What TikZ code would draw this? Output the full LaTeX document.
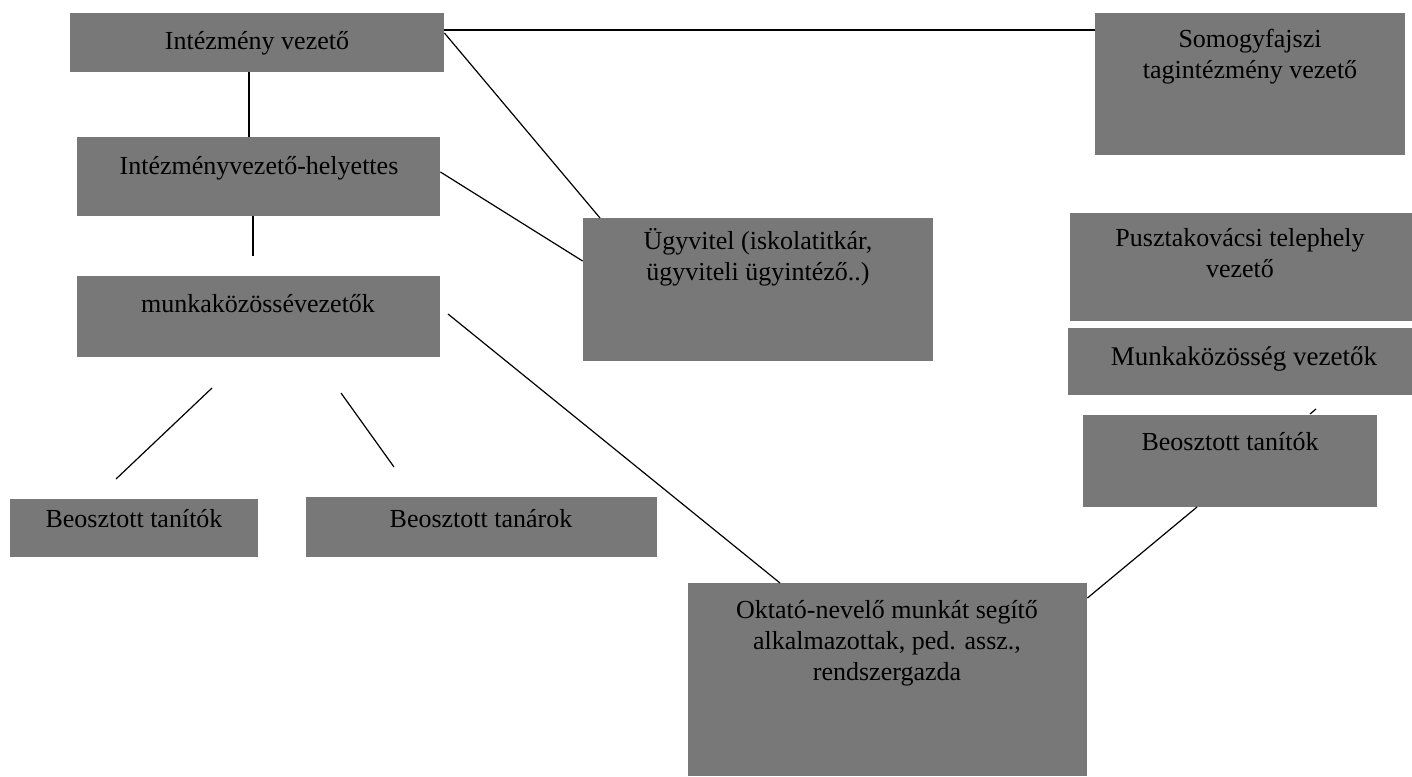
\documentclass[tikz,border=0pt]{standalone}
\usepackage{fontspec}
\setmainfont{Liberation Serif}
\usetikzlibrary{fit}
\definecolor{boxgray}{RGB}{120,120,120}
\begin{document}
\begin{tikzpicture}[x=0.5pt,y=-0.5pt,
  box/.style={fill=boxgray, draw=none, inner sep=0pt},
  txt/.style={inner sep=0pt, align=center, anchor=north, text=black,
    font=\fontsize{13}{15.5}\selectfont},
  conn/.style={draw=black, line width=0.6pt}]
\useasboundingbox (0,0) rectangle (1412,776);
\fill[white] (0,0) rectangle (1412,776);
% boxes
\node[box, fit={(70,13) (444,72)}] (b1) {};
\node[box, fit={(1095,13) (1405,155)}] (b2) {};
\node[box, fit={(77,137) (440,216)}] (b3) {};
\node[box, fit={(77,276) (440,357)}] (b4) {};
\node[box, fit={(583,218) (933,361)}] (b5) {};
\node[box, fit={(1070,213) (1412,321)}] (b6) {};
\node[box, fit={(1068,328) (1412,395)}] (b7) {};
\node[box, fit={(1083,415) (1377,507)}] (b8) {};
\node[box, fit={(10,499) (258,557)}] (b9) {};
\node[box, fit={(306,497) (657,557)}] (b10) {};
\node[box, fit={(688,583) (1087,776)}] (b11) {};
% texts
\node[txt] (t1) at (257,25) {\rule{0pt}{12pt}Intézmény vezető};
\node[txt] (t2) at (1250,23) {\rule{0pt}{12pt}Somogyfajszi\\tagintézmény vezető};
\node[txt] (t3) at (259,150) {\rule{0pt}{12pt}Intézményvezető-helyettes};
\node[txt] (t4) at (258,288) {\rule{0pt}{12pt}munkaközössévezetők};
\node[txt] (t5) at (758,225) {\rule{0pt}{12pt}Ügyvitel (iskolatitkár,\\ügyviteli ügyintéző..)};
\node[txt] (t6) at (1240,222) {\rule{0pt}{12pt}Pusztakovácsi telephely\\vezető};
\node[txt, font=\fontsize{13.5}{16}\selectfont] (t7) at (1244,340) {\rule{0pt}{12.5pt}Munkaközösség vezetők};
\node[txt] (t8) at (1230,426) {\rule{0pt}{12pt}Beosztott tanítók};
\node[txt] (t9) at (134,503) {\rule{0pt}{12pt}Beosztott tanítók};
\node[txt] (t10) at (481,503) {\rule{0pt}{12pt}Beosztott tanárok};
\node[txt] (t11) at (887,594) {\rule{0pt}{12pt}Oktató-nevelő munkát segítő\\alkalmazottak, ped. assz.,\\rendszergazda};
% connector end points
\coordinate (c1a) at (b1.east |- 0,30);
\coordinate (c1b) at (b2.west |- 0,30);
\coordinate (c2a) at (b1.east |- 0,33);
\coordinate (c2b) at (600,218);
\coordinate (c3a) at (249,72);
\coordinate (c3b) at (249,137);
\coordinate (c4a) at (253,216);
\coordinate (c4b) at (253,256);
\coordinate (c5a) at (b3.east |- 0,172);
\coordinate (c5b) at (b5.west |- 0,261);
\coordinate (c6a) at (448,314);
\coordinate (c6b) at (780,583);
\coordinate (c7a) at (212,388);
\coordinate (c7b) at (116,479);
\coordinate (c8a) at (341,393);
\coordinate (c8b) at (394,467);
\coordinate (c9a) at (1197,507);
\coordinate (c9b) at (b11.east |- 0,598);
\coordinate (c10a) at (1310,414);
\coordinate (c10b) at (1316,409);
% connectors
\draw[conn] (c1a) -- (c1b);
\draw[conn] (c2a) -- (c2b);
\draw[conn] (c3a) -- (c3b);
\draw[conn] (c4a) -- (c4b);
\draw[conn] (c5a) -- (c5b);
\draw[conn] (c6a) -- (c6b);
\draw[conn] (c7a) -- (c7b);
\draw[conn] (c8a) -- (c8b);
\draw[conn] (c9a) -- (c9b);
\draw[conn] (c10a) -- (c10b);
\end{tikzpicture}
\end{document}
